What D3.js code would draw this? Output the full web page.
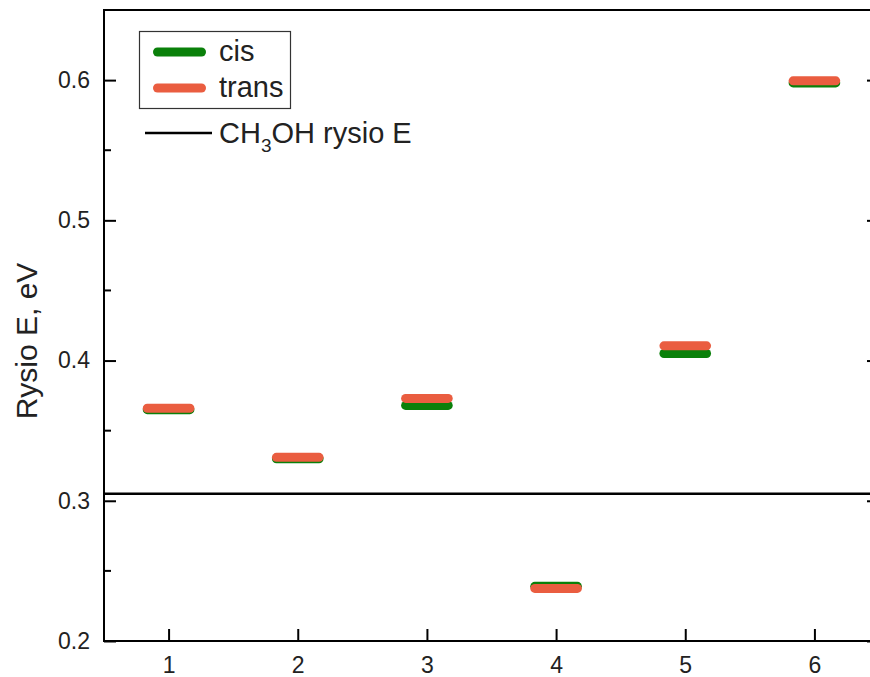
<!DOCTYPE html>
<html>
<head>
<meta charset="utf-8">
<script src="https://cdn.jsdelivr.net/npm/d3@7"></script>
<style>
  body { margin: 0; background: #fff; }
  svg { font-family: "Liberation Sans", Arial, sans-serif; }
</style>
</head>
<body>
<div id="chart"></div>
<script>
const categories = [1, 2, 3, 4, 5, 6];
const cisValues = [0.365, 0.330, 0.368, 0.239, 0.405, 0.598];
const transValues = [0.366, 0.331, 0.373, 0.2375, 0.4105, 0.5995];
const refLevel = 0.305; // CH3OH rysio E
const yTicks = [0.2, 0.3, 0.4, 0.5, 0.6];
const yMinorTicks = [0.25, 0.35, 0.45, 0.55, 0.65];

const width = 870, height = 677;
const margin = { left: 104, right: -9, top: 10, bottom: 36 };

const svg = d3.select("#chart").append("svg")
  .attr("width", width)
  .attr("height", height);

const x = d3.scaleLinear().domain([0.5, 6.5]).range([margin.left, width - margin.right]);
const y = d3.scaleLinear().domain([0.2, 0.65]).range([height - margin.bottom, margin.top]);

const green = "#0a800a";
const orange = "#ea5d40";

// frame
svg.append("rect")
  .attr("x", x(0.5)).attr("y", y(0.65))
  .attr("width", x(6.5) - x(0.5)).attr("height", y(0.2) - y(0.65))
  .attr("fill", "none").attr("stroke", "#000").attr("stroke-width", 2);

// left axis
const yAxis = svg.append("g").attr("transform", `translate(${x(0.5)},0)`)
  .call(d3.axisLeft(y).tickValues(yTicks).tickFormat(d3.format(".1f")).tickSize(-12).tickPadding(14));
yAxis.select(".domain").remove();
yAxis.selectAll(".tick line").attr("stroke-width", 2);
yAxis.selectAll("text").attr("font-size", 23).attr("fill", "#222");
svg.append("g").selectAll("line").data(yMinorTicks).join("line")
  .attr("x1", x(0.5)).attr("x2", x(0.5) + 7)
  .attr("y1", d => y(d)).attr("y2", d => y(d))
  .attr("stroke", "#000").attr("stroke-width", 2);

// right axis ticks
const yAxisR = svg.append("g").attr("transform", `translate(${x(6.5)},0)`)
  .call(d3.axisRight(y).tickValues(yTicks).tickFormat("").tickSize(-12));
yAxisR.select(".domain").remove();
yAxisR.selectAll(".tick line").attr("stroke-width", 2);

// bottom axis
const xAxis = svg.append("g").attr("transform", `translate(0,${y(0.2)})`)
  .call(d3.axisBottom(x).tickValues(categories).tickFormat(d3.format("d")).tickSize(-12).tickPadding(16));
xAxis.select(".domain").remove();
xAxis.selectAll(".tick line").attr("stroke-width", 2);
xAxis.selectAll("text").attr("font-size", 23).attr("fill", "#222");

// y label
svg.append("text")
  .attr("transform", `translate(37,341) rotate(-90)`)
  .attr("text-anchor", "middle")
  .attr("font-size", 30)
  .attr("fill", "#222")
  .text("Rysio E, eV");

// CH3OH reference line
svg.append("line")
  .attr("x1", x(0.5)).attr("x2", x(6.5))
  .attr("y1", y(refLevel)).attr("y2", y(refLevel))
  .attr("stroke", "#000").attr("stroke-width", 2.5);

// level marks
const half = 0.165;
function drawLevels(values, color) {
  svg.append("g").selectAll("line").data(values).join("line")
    .attr("x1", (d, i) => x(categories[i] - half))
    .attr("x2", (d, i) => x(categories[i] + half))
    .attr("y1", d => y(d)).attr("y2", d => y(d))
    .attr("stroke", color).attr("stroke-width", 9)
    .attr("stroke-linecap", "round");
}
drawLevels(cisValues, green);
drawLevels(transValues, orange);

// legend
const lg = svg.append("g");
lg.append("rect").attr("x", 139.5).attr("y", 31.5).attr("width", 151).attr("height", 77)
  .attr("fill", "#fff").attr("stroke", "#333").attr("stroke-width", 1.2);
const legendItems = [
  { label: "cis", color: green, y: 52 },
  { label: "trans", color: orange, y: 88 }
];
legendItems.forEach(it => {
  lg.append("line").attr("x1", 157.5).attr("x2", 201.5).attr("y1", it.y).attr("y2", it.y)
    .attr("stroke", it.color).attr("stroke-width", 9).attr("stroke-linecap", "round");
  lg.append("text").attr("x", 219).attr("y", it.y + 9).attr("font-size", 29).attr("fill", "#222").text(it.label);
});
lg.append("line").attr("x1", 145).attr("x2", 212).attr("y1", 133).attr("y2", 133)
  .attr("stroke", "#000").attr("stroke-width", 2.5);
const t = lg.append("text").attr("x", 219).attr("y", 143).attr("font-size", 29).attr("fill", "#222");
t.append("tspan").text("CH");
t.append("tspan").attr("font-size", 19).attr("dy", 9).text("3");
t.append("tspan").attr("dy", -9).text("OH rysio E");
</script>
</body>
</html>
